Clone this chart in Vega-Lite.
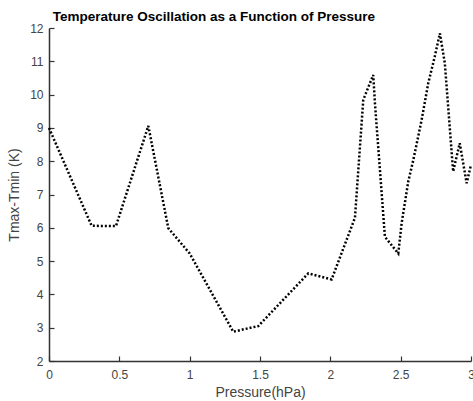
{
  "$schema": "https://vega.github.io/schema/vega-lite/v6.json",
  "width": 422,
  "height": 333,
  "autosize": {"type": "none"},
  "padding": {"left": 49, "top": 28, "right": 2, "bottom": 40},
  "background": "white",
  "title": {
    "text": "Temperature Oscillation as a Function of Pressure",
    "anchor": "start",
    "dx": 45,
    "offset": -1,
    "font": "Liberation Sans",
    "fontSize": 13.5,
    "fontWeight": "bold",
    "color": "#000000"
  },
  "config": {
    "view": {"stroke": null},
    "axis": {
      "grid": false,
      "domainColor": "#333333",
      "domainWidth": 1.5,
      "tickColor": "#333333",
      "tickSize": -5,
      "tickWidth": 1.2,
      "labelFont": "Liberation Sans",
      "labelFontSize": 12,
      "labelColor": "#444444",
      "titleFont": "Liberation Sans",
      "titleFontSize": 14,
      "titleFontWeight": "normal",
      "titleColor": "#444444"
    }
  },
  "data": {
    "values": [
      {"p": 0, "t": 9},
      {"p": 0.303, "t": 6.06},
      {"p": 0.476, "t": 6.05},
      {"p": 0.706, "t": 9.06},
      {"p": 0.848, "t": 5.99},
      {"p": 1.0, "t": 5.23},
      {"p": 1.31, "t": 2.88},
      {"p": 1.488, "t": 3.05},
      {"p": 1.843, "t": 4.63},
      {"p": 2.009, "t": 4.45},
      {"p": 2.175, "t": 6.3},
      {"p": 2.234, "t": 9.84},
      {"p": 2.305, "t": 10.59},
      {"p": 2.317, "t": 9.75},
      {"p": 2.388, "t": 5.73},
      {"p": 2.483, "t": 5.23},
      {"p": 2.507, "t": 6.14},
      {"p": 2.554, "t": 7.39},
      {"p": 2.59, "t": 8.04},
      {"p": 2.649, "t": 9.24},
      {"p": 2.696, "t": 10.34},
      {"p": 2.74, "t": 11.1},
      {"p": 2.779, "t": 11.84},
      {"p": 2.814, "t": 10.94},
      {"p": 2.873, "t": 7.69},
      {"p": 2.92, "t": 8.54},
      {"p": 2.969, "t": 7.34},
      {"p": 3.0, "t": 7.89}
    ]
  },
  "mark": {"type": "line", "color": "#000000", "strokeWidth": 2.5, "strokeDash": [2, 2], "clip": false},
  "encoding": {
    "x": {
      "field": "p",
      "type": "quantitative",
      "scale": {"domain": [0, 3], "nice": false, "zero": false},
      "axis": {"title": "Pressure(hPa)", "format": "~g", "values": [0, 0.5, 1, 1.5, 2, 2.5, 3], "labelPadding": 13, "titlePadding": 5, "labelFlush": false}
    },
    "y": {
      "field": "t",
      "type": "quantitative",
      "scale": {"domain": [2, 12], "nice": false, "zero": false},
      "axis": {"title": "Tmax-Tmin (K)", "format": "~g", "values": [2, 3, 4, 5, 6, 7, 8, 9, 10, 11, 12], "labelPadding": 11, "titlePadding": 8}
    }
  }
}
